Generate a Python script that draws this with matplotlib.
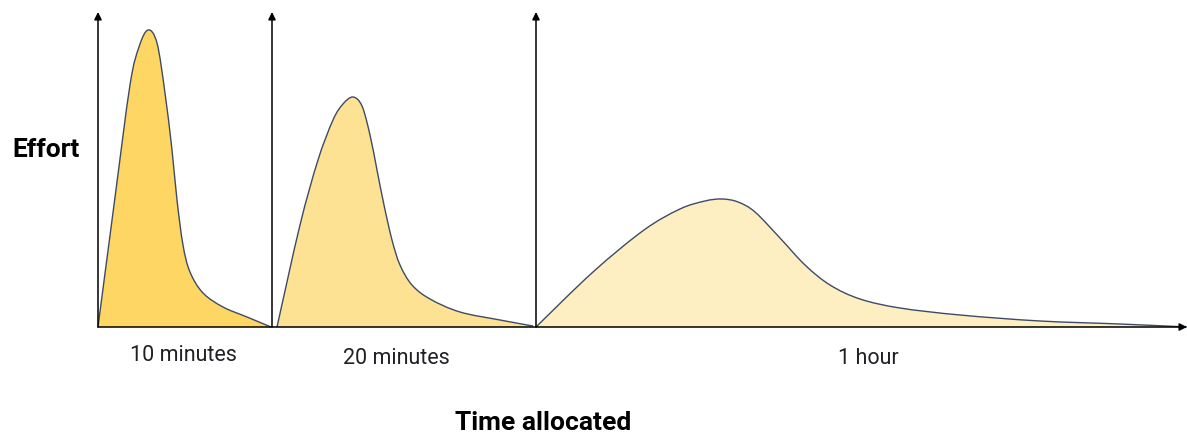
import matplotlib.pyplot as plt
from matplotlib.path import Path
from matplotlib.patches import PathPatch, FancyArrowPatch

plt.rcParams['font.family'] = ['Roboto', 'DejaVu Sans']

# curves: time from the first axis, effort above the baseline
t10 = [0, 16, 32, 41, 50, 59, 67, 74, 79, 85, 92, 105, 125, 149, 173]
e10 = [0, 122, 242, 280, 297, 284, 234, 177, 127, 82, 55, 34, 20, 10, 0]

t20 = [179, 202, 220, 235, 245, 255, 264, 272, 279, 286, 294, 302, 314, 332, 362, 402, 435]
e20 = [0, 102, 167, 207, 223, 230, 221, 192, 157, 122, 87, 62, 42, 28, 15, 7, 1]

t60 = [438, 495, 546, 582, 607, 624, 640, 657, 682, 707, 732, 762, 802, 862, 942, 1022, 1089]
e60 = [0, 55, 97, 118, 126, 128, 125, 115, 89, 62, 42, 28, 19, 12, 6, 3, 0]

fills = ['#fdd663', '#fde293', '#feefc3']
labels = ['10 minutes', '20 minutes', '1 hour']
label_t = [85, 298, 770]
label_e = [-28, -31, -31]
axis_t = [0, 174, 438]
axis_top = 315
t_end = 1089
edge = '#3d4b66'


def smooth_path(xs, ys, close=False):
    # catmull-rom style bezier through the read points
    pts = list(zip(xs, ys))
    verts = [pts[0]]
    codes = [Path.MOVETO]
    n = len(pts)
    for i in range(n - 1):
        p0 = pts[i - 1] if i > 0 else pts[i]
        p1 = pts[i]
        p2 = pts[i + 1]
        p3 = pts[i + 2] if i + 2 < n else pts[i + 1]
        c1 = (p1[0] + (p2[0] - p0[0]) / 6, p1[1] + (p2[1] - p0[1]) / 6)
        c2 = (p2[0] - (p3[0] - p1[0]) / 6, p2[1] - (p3[1] - p1[1]) / 6)
        verts += [c1, c2, p2]
        codes += [Path.CURVE4] * 3
    if close:
        verts += [(xs[-1], 0), (xs[0], 0), (xs[0], 0)]
        codes += [Path.LINETO, Path.LINETO, Path.CLOSEPOLY]
    return Path(verts, codes)


fig = plt.figure(figsize=(11.87, 4.36), dpi=100)
ax = fig.add_axes([0, 0, 1, 1])
ax.set_xlim(-98, 1089)
ax.set_ylim(-109, 327)
ax.axis('off')

for (t, e), c in zip([(t10, e10), (t20, e20), (t60, e60)], fills):
    ax.add_patch(PathPatch(smooth_path(t, e, close=True), facecolor=c, edgecolor='none'))
    ax.add_patch(PathPatch(smooth_path(t, e), facecolor='none', edgecolor=edge, lw=1.0))

for a in axis_t:
    ax.add_patch(FancyArrowPatch((a, 0), (a, axis_top), arrowstyle='-|>', mutation_scale=11,
                                 color='black', lw=1.1, shrinkA=0, shrinkB=0))
ax.add_patch(FancyArrowPatch((0, 0), (t_end, 0), arrowstyle='-|>', mutation_scale=11,
                             color='black', lw=1.1, shrinkA=0, shrinkB=0))

for lt, le, lab in zip(label_t, label_e, labels):
    ax.text(lt, le, lab, ha='center', va='center', fontsize=15.5, color='#202124')

ax.text(-86, 177, 'Effort', ha='left', va='center', fontsize=19, fontweight='bold', color='black')
ax.text(445, -96, 'Time allocated', ha='center', va='center', fontsize=19, fontweight='bold',
        color='black')

fig.savefig('out.png', dpi=100)
